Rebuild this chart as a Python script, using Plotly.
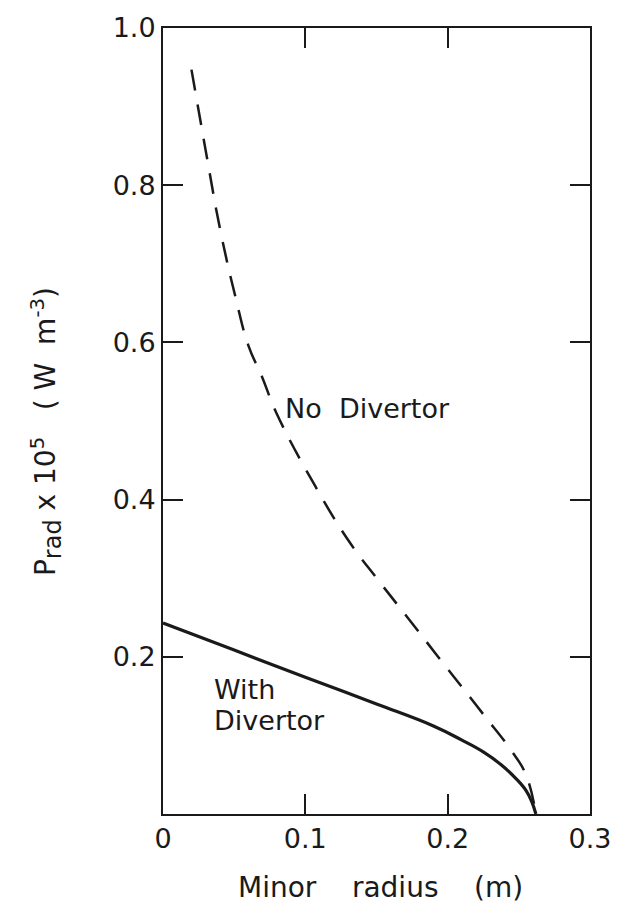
import plotly.graph_objects as go

# No Divertor (dashed)
nd_x = [0.020, 0.031, 0.040, 0.051, 0.060, 0.0694, 0.080, 0.107, 0.131, 0.151, 0.174, 0.192, 0.225, 0.245, 0.255, 0.262]
nd_y = [0.947, 0.834, 0.745, 0.657, 0.596, 0.557, 0.509, 0.417, 0.346, 0.298, 0.245, 0.203, 0.127, 0.080, 0.050, 0.0]

# With Divertor (solid)
wd_x = [0.0, 0.05, 0.10, 0.15, 0.19, 0.21, 0.225, 0.238, 0.248, 0.255, 0.259, 0.262]
wd_y = [0.243, 0.2085, 0.174, 0.140, 0.112, 0.094, 0.079, 0.062, 0.045, 0.030, 0.016, 0.0]

x_ticks = [0, 0.1, 0.2, 0.3]
x_ticktext = ["0", "0.1", "0.2", "0.3"]
y_ticks = [0.2, 0.4, 0.6, 0.8, 1.0]
y_ticktext = ["0.2", "0.4", "0.6", "0.8", "1.0"]

FONT = "DejaVu Sans"
INK = "#1a1a1a"
FS = 27

fig = go.Figure()
fig.add_trace(go.Scatter(x=nd_x, y=nd_y, mode="lines",
                         line=dict(color=INK, width=2.5, dash="21px,14px", shape="spline", smoothing=1.2),
                         showlegend=False, hoverinfo="skip"))
fig.add_trace(go.Scatter(x=wd_x, y=wd_y, mode="lines",
                         line=dict(color=INK, width=3.2, shape="spline", smoothing=1.2),
                         showlegend=False, hoverinfo="skip"))

fig.add_annotation(x=0.0845, y=0.516, text="No  Divertor", showarrow=False,
                   xanchor="left", yanchor="middle", font=dict(family=FONT, size=FS, color=INK))
fig.add_annotation(x=0.0345, y=0.159, text="With", showarrow=False,
                   xanchor="left", yanchor="middle", font=dict(family=FONT, size=FS, color=INK))
fig.add_annotation(x=0.0345, y=0.119, text="Divertor", showarrow=False,
                   xanchor="left", yanchor="middle", font=dict(family=FONT, size=FS, color=INK))

# axis titles
fig.add_annotation(xref="paper", yref="paper", x=0.509, y=-0.093,
                   text="Minor    radius    (m)", showarrow=False,
                   xanchor="center", yanchor="middle", font=dict(family=FONT, size=28, color=INK))
fig.add_annotation(xref="paper", yref="paper", x=-0.272, y=0.487, textangle=-90,
                   text="P<sub><span style='font-size:24px'>rad</span></sub> x 10<sup>5</sup>   ( W  m<sup>-3</sup>)",
                   showarrow=False,
                   xanchor="center", yanchor="middle", font=dict(family=FONT, size=28, color=INK))

axis_common = dict(showline=True, linecolor=INK, linewidth=2, mirror="ticks",
                   ticks="inside", ticklen=20, tickwidth=2, tickcolor=INK,
                   showgrid=False, zeroline=False,
                   tickfont=dict(family=FONT, size=FS, color=INK))

fig.update_layout(
    width=623, height=906,
    margin=dict(l=163, r=28, t=22, b=92),
    paper_bgcolor="white", plot_bgcolor="white",
    xaxis=dict(range=[0, 0.3], tickvals=x_ticks, ticktext=x_ticktext, **axis_common),
    yaxis=dict(range=[0, 1.0], tickvals=y_ticks, ticktext=y_ticktext, **axis_common),
)

fig.write_html("out.html")
